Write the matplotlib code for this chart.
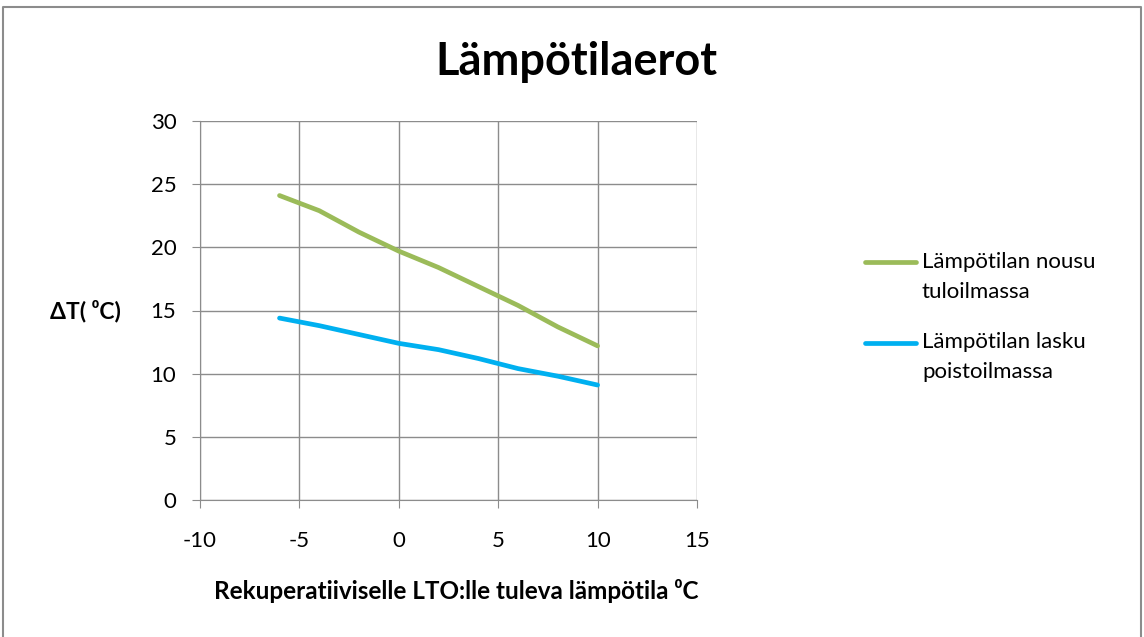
import matplotlib
matplotlib.use("Agg")
import matplotlib.pyplot as plt
from matplotlib.lines import Line2D

plt.rcParams['font.family'] = ['Lato', 'DejaVu Sans']
plt.rcParams['axes.unicode_minus'] = False

# supply air temperature (x) and the two temperature differences
tempIn = [-6, -4, -2, 0, 2, 4, 6, 8, 10]
riseSupply = [24.1, 22.9, 21.2, 19.7, 18.4, 16.9, 15.4, 13.7, 12.2]
dropExhaust = [14.4, 13.8, 13.1, 12.4, 11.9, 11.2, 10.4, 9.8, 9.1]

labelRise = ['Lämpötilan nousu', 'tuloilmassa']
labelDrop = ['Lämpötilan lasku', 'poistoilmassa']
colRise = '#9BBB59'
colDrop = '#00B0F0'

W, H = 1144, 637
fig = plt.figure(figsize=(W / 100, H / 100), dpi=100)

def fx(px):
    return px / W

def fy(py):
    return 1 - py / H

# outer frame (open at the bottom)
fig.add_artist(Line2D([fx(3), fx(3), fx(1141), fx(1141)], [fy(640), fy(7), fy(7), fy(640)],
                      color='#8c8c8c', linewidth=1.5))

ax = fig.add_axes([fx(200), fy(500), fx(497), 379 / H])
ax.plot(tempIn, riseSupply, color=colRise, linewidth=3.4, solid_capstyle='round')
ax.plot(tempIn, dropExhaust, color=colDrop, linewidth=3.4, solid_capstyle='round')

ax.set_xlim(-10, 15)
ax.set_ylim(0, 30)
ax.set_xticks(range(-10, 16, 5))
ax.set_yticks(range(0, 31, 5))
ax.grid(True, color='#8c8c8c', linewidth=1)
ax.set_axisbelow(True)
for s in ['top', 'right']:
    ax.spines[s].set_visible(False)
for s in ['left', 'bottom']:
    ax.spines[s].set_color('#8c8c8c')
ax.tick_params(axis='both', labelsize=16, color='#8c8c8c', length=6, direction='out')
ax.tick_params(axis='x', pad=16)
ax.tick_params(axis='y', pad=11)

fig.text(fx(456), fy(591), 'Rekuperatiiviselle LTO:lle tuleva lämpötila ⁰C',
         fontsize=17.5, fontweight='bold', ha='center', va='center')
fig.text(fx(121), fy(311), 'ΔT( ⁰C)', fontsize=16.5, fontweight='bold', ha='right', va='center')

fig.text(fx(576), fy(62), 'Lämpötilaerot', fontsize=32.5, fontweight='bold', ha='center', va='center')

# legend entries
for lbl, col, y0 in [(labelRise, colRise, 261.5), (labelDrop, colDrop, 342.5)]:
    fig.add_artist(Line2D([fx(865), fx(916)], [fy(y0), fy(y0)], color=col, linewidth=3.4,
                          solid_capstyle='round'))
    fig.text(fx(922), fy(y0), lbl[0], fontsize=16, ha='left', va='center')
    fig.text(fx(922), fy(y0 + 30), lbl[1], fontsize=16, ha='left', va='center')

plt.savefig('out.png', dpi=100)
